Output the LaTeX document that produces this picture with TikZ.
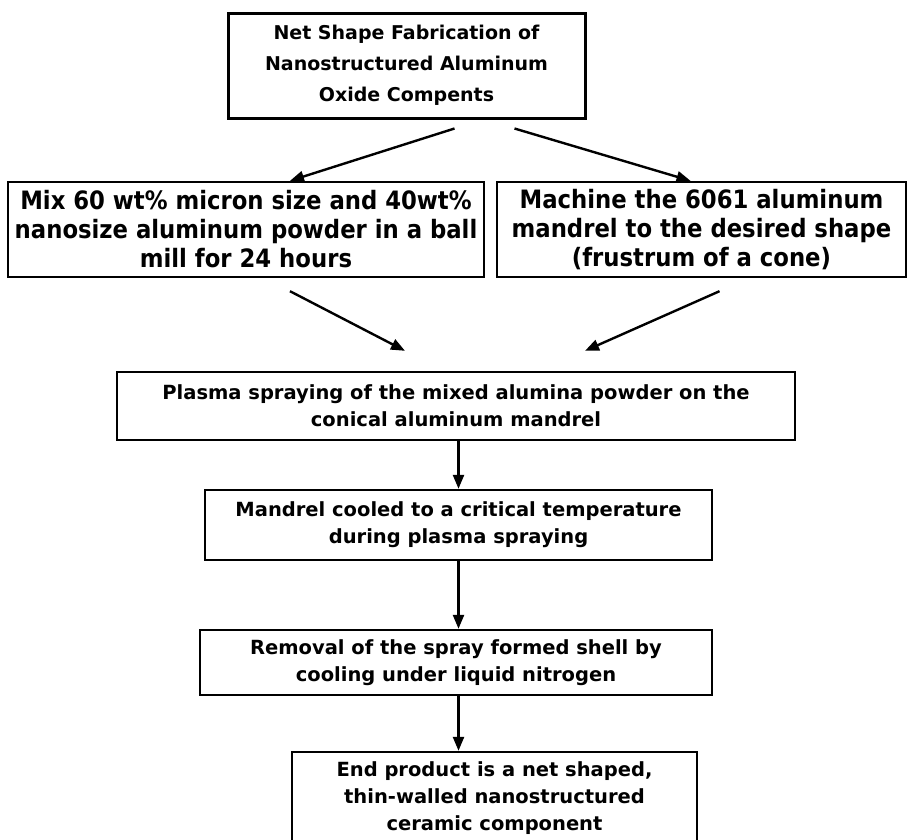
\documentclass[tikz,border=0pt]{standalone}
\usepackage{fontspec}
\setmainfont{DejaVu Sans}
\newfontfamily\narrowfont{DejaVu Sans Condensed}
\usetikzlibrary{arrows.meta,positioning,calc}

\tikzset{
    stepbox/.style={draw, line width=2.4pt, align=center, inner sep=0pt, font=\bfseries\fontsize{19.5}{27}\selectfont},
    narrowbox/.style={stepbox, font=\narrowfont\bfseries\fontsize{25.3}{29}\selectfont},
    arr/.style={-{Triangle[length=14pt,width=11pt]}, line width=2.4pt}
}

\begin{document}
\begin{tikzpicture}[x=1pt, y=-1pt]
    \useasboundingbox (0,0) rectangle (912,839);
    % boxes
    \node[stepbox, line width=3pt, minimum width=357pt, minimum height=105pt, font=\bfseries\fontsize{19}{31}\selectfont] (top) at (406.5,65.5)
        {Net Shape Fabrication of\\Nanostructured Aluminum\\Oxide Compents};
    \node[narrowbox, minimum width=476pt, minimum height=95pt] (mix) at (246,229.5)
        {Mix 60 wt\% micron size and 40wt\%\\nanosize aluminum powder in a ball\\mill for 24 hours};
    \node[narrowbox, minimum width=409pt, minimum height=95pt] (machine) at (701.5,229.5)
        {Machine the 6061 aluminum\\mandrel to the desired shape\\(frustrum of a cone)};
    \node[stepbox, minimum width=678pt, minimum height=68pt] (plasma) at (456,406)
        {Plasma spraying of the mixed alumina powder on the\\conical aluminum mandrel};
    \node[stepbox, minimum width=507pt, minimum height=70pt] (mandrel) at (458.5,525)
        {Mandrel cooled to a critical temperature\\during plasma spraying};
    \node[stepbox, minimum width=512pt, minimum height=65pt] (removal) at (456,662.5)
        {Removal of the spray formed shell by\\cooling under liquid nitrogen};
    \node[stepbox, minimum width=405pt, minimum height=92pt] (product) at (494.5,798)
        {End product is a net shaped,\\thin-walled nanostructured\\ceramic component};
    % connectors
    \draw[arr] ([xshift=48pt,yshift=-9pt]top.south) -- ([xshift=44pt]mix.north);
    \draw[arr] ([xshift=108pt,yshift=-9pt]top.south) -- ([xshift=-11pt]machine.north);
    \draw[arr] ([xshift=44pt,yshift=-13pt]mix.south) -- ([xshift=-51pt,yshift=20pt]plasma.north);
    \draw[arr] ([xshift=18pt,yshift=-13pt]machine.south) -- ([xshift=129pt,yshift=20pt]plasma.north);
    \draw[arr] (plasma.south -| mandrel.north) -- (mandrel.north);
    \draw[arr] (mandrel.south) -- (mandrel.south |- removal.north);
    \draw[arr] ([xshift=2.5pt]removal.south) -- ([xshift=-36pt]product.north);
\end{tikzpicture}
\end{document}
